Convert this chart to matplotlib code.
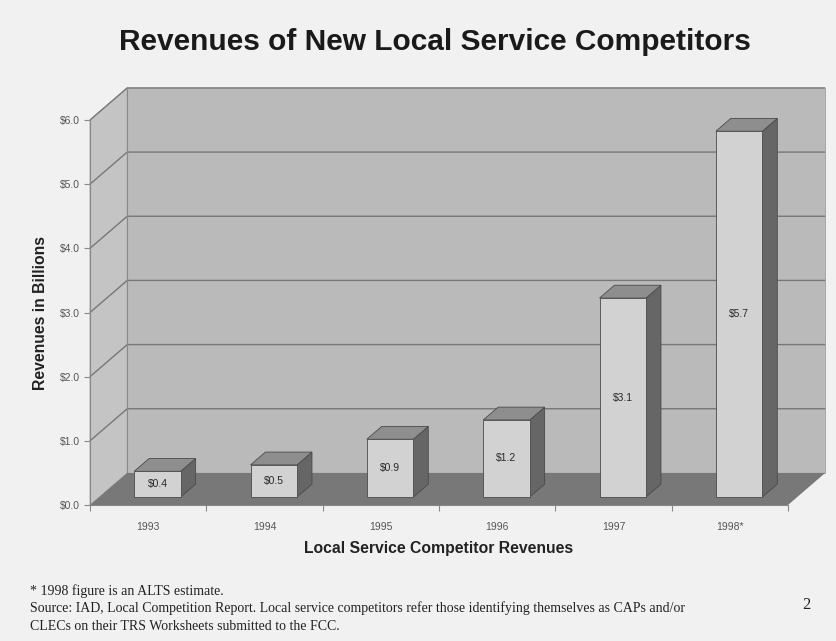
"""
Revenues of New Local Service Competitors - pseudo 3D bar chart
"""

import matplotlib
matplotlib.use("Agg")
import matplotlib.pyplot as plt
from matplotlib.patches import Polygon
import numpy as np

# data
years = ["1993", "1994", "1995", "1996", "1997", "1998*"]
revenues = [0.4, 0.5, 0.9, 1.2, 3.1, 5.7]
bar_labels = ["$0.4", "$0.5", "$0.9", "$1.2", "$3.1", "$5.7"]
y_ticks = [0, 1, 2, 3, 4, 5, 6]
y_tick_labels = ["$0.0", "$1.0", "$2.0", "$3.0", "$4.0", "$5.0", "$6.0"]

title = "Revenues of New Local Service Competitors"
x_title = "Local Service Competitor Revenues"
y_title = "Revenues in Billions"
notes = [
    "* 1998 figure is an ALTS estimate.",
    "Source: IAD, Local Competition Report. Local service competitors refer those identifying themselves as CAPs and/or",
    "CLECs on their TRS Worksheets submitted to the FCC.",
]

# colours
BG = "#f1f1f1"
WALL = "#bababa"
SIDE_WALL = "#c4c4c4"
FLOOR = "#787878"
GRID = "#777777"
BAR_FRONT = "#d2d2d2"
BAR_TOP = "#8e8e8e"
BAR_SIDE = "#666666"
EDGE = "#4a4a4a"

W, H = 836, 641
fig = plt.figure(figsize=(W / 100, H / 100), dpi=100, facecolor=BG)
# front plane of the chart box, in pixels
left, right, top, bottom = 90, 788, 120, 505
ax = fig.add_axes([left / W, 1 - bottom / H, (right - left) / W, (bottom - top) / H])
ax.set_facecolor("none")

n = len(years)
x0, x1 = -0.5, n - 0.5
ax.set_xlim(x0, x1)
ax.set_ylim(0, 6)

# depth vector of the box (in data units)
dx, dy = 0.32, 0.5

def poly(pts, fc, z, ec="none", lw=0.6):
    ax.add_patch(Polygon(pts, closed=True, fc=fc, ec=ec, lw=lw, zorder=z, clip_on=False))

# back wall, side wall, floor
poly([(x0 + dx, dy), (x1 + dx, dy), (x1 + dx, 6 + dy), (x0 + dx, 6 + dy)], WALL, 1, ec="#a0a0a0")
poly([(x0, 0), (x0 + dx, dy), (x0 + dx, 6 + dy), (x0, 6)], SIDE_WALL, 1, ec="#a0a0a0")
for v in y_ticks[1:]:
    ax.plot([x0, x0 + dx, x1 + dx], [v, v + dy, v + dy], color=GRID, lw=1.0,
            zorder=2, clip_on=False, solid_capstyle="butt")
ax.plot([x0 + dx, x0 + dx], [dy, 6 + dy], color="#8a8a8a", lw=0.8, zorder=2, clip_on=False)
poly([(x0, 0), (x1, 0), (x1 + dx, dy), (x0 + dx, dy)], FLOOR, 3)

# bars: front face sits a quarter into the depth, bar is 0.4 deep
f0, fd = 0.25, 0.4
bw = 0.4
ox, oy = f0 * dx, f0 * dy
bdx, bdy = fd * dx, fd * dy
for i, (v, lab) in enumerate(zip(revenues, bar_labels)):
    xl = i - bw / 2 + ox
    xr = i + bw / 2 + ox
    yb = oy
    yt = oy + v
    z = 4
    poly([(xr, yb), (xr + bdx, yb + bdy), (xr + bdx, yt + bdy), (xr, yt)], BAR_SIDE, z, ec=EDGE)
    poly([(xl, yt), (xr, yt), (xr + bdx, yt + bdy), (xl + bdx, yt + bdy)], BAR_TOP, z, ec=EDGE)
    poly([(xl, yb), (xr, yb), (xr, yt), (xl, yt)], BAR_FRONT, z + 0.1, ec=EDGE)
    ax.text((xl + xr) / 2, (yb + yt) / 2, lab, ha="center", va="center",
            fontsize=7.5, color="#2a2a2a", zorder=6, family="Liberation Sans")

# axes, ticks
for s in ["top", "right"]:
    ax.spines[s].set_visible(False)
for s in ["left", "bottom"]:
    ax.spines[s].set_color("#888888")
    ax.spines[s].set_linewidth(0.8)
    ax.spines[s].set_zorder(7)

ax.set_yticks(y_ticks)
ax.set_yticklabels(y_tick_labels)
ax.set_xticks(np.arange(n))
ax.set_xticklabels(years)
ax.set_xticks(np.arange(n + 1) - 0.5, minor=True)
ax.tick_params(axis="y", length=4, width=0.8, color="#888888", labelsize=7.5,
               labelcolor="#555555", pad=3)
ax.tick_params(axis="x", which="major", length=0, labelsize=7.5, labelcolor="#555555", pad=12)
ax.tick_params(axis="x", which="minor", length=4, width=0.8, color="#888888")
for t in ax.get_xticklabels() + ax.get_yticklabels():
    t.set_family("Liberation Sans")

ax.set_xlabel(x_title, fontsize=11.3, fontweight="bold", family="Liberation Sans",
              color="#222222", labelpad=7)
ax.set_ylabel(y_title, fontsize=11.3, fontweight="bold", family="Liberation Sans",
              color="#222222", labelpad=9)

fig.text(435 / W, 1 - 42 / H, title, ha="center", va="center", fontsize=21.5,
         fontweight="bold", family="Liberation Sans", color="#1a1a1a")

for k, line in enumerate(notes):
    fig.text(30 / W, 1 - (591 + 17.5 * k) / H, line, ha="left", va="center",
             fontsize=10, family="Liberation Serif", color="#222222")
fig.text(806 / W, 1 - 605 / H, "2", ha="center", va="center", fontsize=12,
         family="Liberation Serif", color="#222222")

fig.savefig("out.png", dpi=100, facecolor=BG)
plt.close(fig)
